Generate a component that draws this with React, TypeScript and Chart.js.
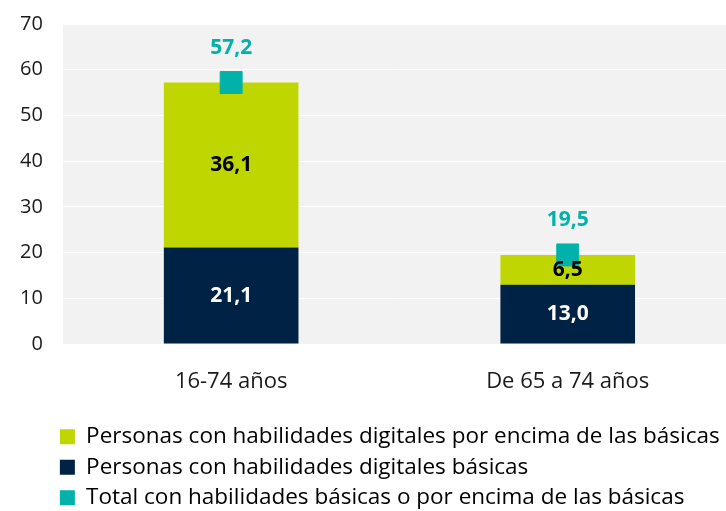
import React, { useEffect, useRef } from "react";
import { Chart, registerables } from "chart.js";

Chart.register(...registerables);

const categories = ["16-74 años", "De 65 a 74 años"];
const basicas = [21.1, 13.0];
const porEncima = [36.1, 6.5];
const total = [57.2, 19.5];
const yTicks = [0, 10, 20, 30, 40, 50, 60, 70];

const GREEN = "#c0d600";
const NAVY = "#002244";
const TEAL = "#00b2a9";
const FONT = "'Open Sans', 'Noto Sans', sans-serif";

const fmt = (v: number) => v.toFixed(1).replace(".", ",");

const bgPlugin = {
  id: "plotBg",
  beforeDraw(chart: any) {
    const { ctx, chartArea } = chart;
    ctx.save();
    ctx.fillStyle = "#f2f2f2";
    ctx.fillRect(chartArea.left, chartArea.top, chartArea.right - chartArea.left, chartArea.bottom - chartArea.top);
    ctx.restore();
  },
  afterLayout(chart: any) {
    const lg = chart.legend;
    if (lg) {
      const shift = chart.chartArea.left - 11;
      lg.left += shift;
      lg.right += shift;
    }
  },
};

const labelPlugin = {
  id: "valueLabels",
  afterDatasetsDraw(chart: any) {
    const { ctx } = chart;
    ctx.save();
    ctx.textAlign = "center";
    ctx.textBaseline = "middle";
    ctx.font = `bold 21px ${FONT}`;
    chart.data.datasets.forEach((ds: any, i: number) => {
      const meta = chart.getDatasetMeta(i);
      meta.data.forEach((el: any, j: number) => {
        const v = ds.data[j];
        if (ds.type === "line") {
          ctx.fillStyle = TEAL;
          ctx.fillText(fmt(v), el.x, el.y - 35);
        } else {
          ctx.fillStyle = ds.labelColor;
          ctx.fillText(fmt(v), el.x, (el.y + el.base) / 2);
        }
      });
    });
    ctx.restore();
  },
};

export default function App() {
  const ref = useRef<HTMLCanvasElement>(null);
  useEffect(() => {
    if (!ref.current) return;
    const chart = new Chart(ref.current, {
      type: "bar",
      data: {
        labels: categories,
        datasets: [
          {
            type: "bar",
            label: "Personas con habilidades digitales básicas",
            data: basicas,
            backgroundColor: NAVY,
            stack: "a",
            order: 1,
            legendOrder: 1,
            labelColor: "#ffffff",
          } as any,
          {
            type: "bar",
            label: "Personas con habilidades digitales por encima de las básicas",
            data: porEncima,
            backgroundColor: GREEN,
            stack: "a",
            order: 2,
            legendOrder: 0,
            labelColor: "#000000",
          } as any,
          {
            type: "line",
            label: "Total con habilidades básicas o por encima de las básicas",
            data: total,
            backgroundColor: TEAL,
            borderColor: TEAL,
            showLine: false,
            pointStyle: "rect",
            pointRadius: 15.5,
            pointHoverRadius: 15.5,
            stack: "t",
            order: 0,
            legendOrder: 2,
            clip: false,
          } as any,
        ],
      },
      options: {
        animation: false,
        responsive: true,
        maintainAspectRatio: false,
        layout: { autoPadding: false, padding: { top: 0, right: 0, left: 0, bottom: 0 } },
        datasets: { bar: { categoryPercentage: 1, barPercentage: 0.4 } },
        scales: {
          x: {
            stacked: true,
            grid: { display: false },
            border: { display: false },
            ticks: { font: { family: FONT, size: 22 }, color: "#1a1a1a", padding: 16 },
            afterFit: (axis: any) => {
              axis.height += 7;
            },
          },
          y: {
            stacked: true,
            min: 0,
            max: 70,
            afterBuildTicks: (axis: any) => {
              axis.ticks = yTicks.map((v) => ({ value: v }));
            },
            afterFit: (axis: any) => {
              axis.paddingTop = 24;
              axis.paddingBottom = 12;
            },
            grid: { color: "#ffffff", lineWidth: 1, drawTicks: false },
            border: { display: false },
            ticks: { font: { family: FONT, size: 20 }, color: "#1a1a1a", padding: 20 },
          },
        },
        plugins: {
          legend: {
            position: "bottom",
            align: "start",
            labels: {
              boxWidth: 15,
              boxHeight: 15,
              padding: 8,
              color: "#1a1a1a",
              font: { family: FONT, size: 22.5 },
              generateLabels: (chart: any) =>
                chart.data.datasets
                  .map((ds: any, i: number) => ({
                    text: ds.label,
                    fillStyle: ds.backgroundColor,
                    strokeStyle: ds.backgroundColor,
                    lineWidth: 0,
                    pointStyle: "rect",
                    datasetIndex: i,
                    hidden: false,
                    ord: ds.legendOrder,
                  }))
                  .sort((a: any, b: any) => a.ord - b.ord),
            },
          },
          tooltip: { enabled: false },
        },
      },
      plugins: [bgPlugin, labelPlugin],
    });
    return () => chart.destroy();
  }, []);
  return (
    <div style={{ position: "fixed", left: 0, top: 0, width: 736, height: 519 }}>
      <canvas ref={ref} />
    </div>
  );
}
